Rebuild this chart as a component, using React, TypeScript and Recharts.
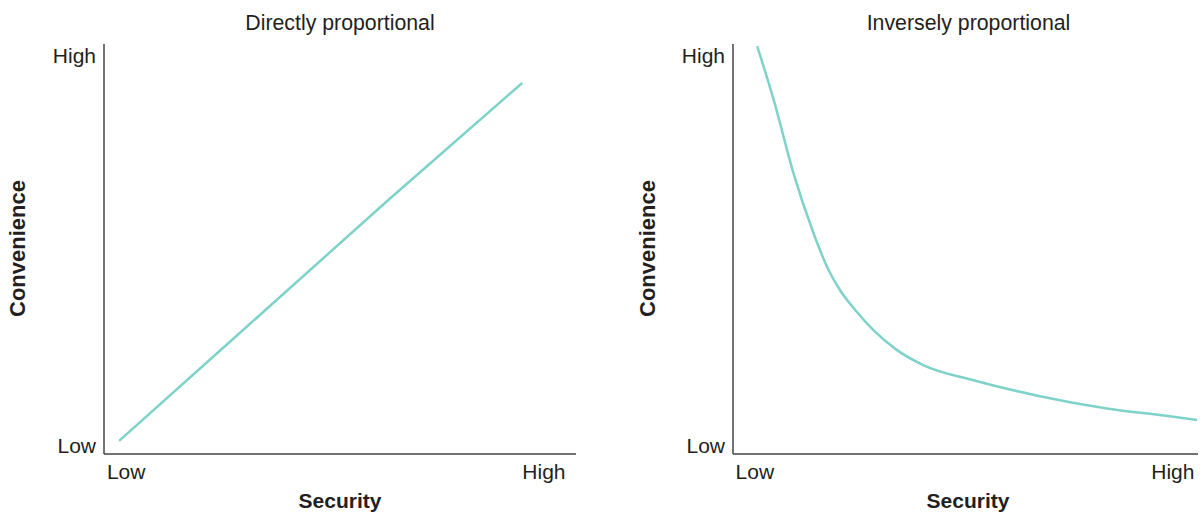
import React from 'react';
import { LineChart, Line, XAxis, YAxis } from 'recharts';

// values, both axes on a 0-100 scale
const directX = [3.2, 30, 60, 88.6];
const directY = [3.2, 30.8, 61.7, 90.5];

const inverseX = [5.2, 8.7, 13.0, 17.3, 20.5, 23.0, 26.6, 30.2, 35.2, 40.9, 51.7, 66.0, 80.4, 94.7, 99.8];
const inverseY = [99.5, 86.6, 68.5, 53.9, 45.0, 40.0, 34.7, 30.2, 25.4, 21.7, 18.0, 14.1, 11.1, 9.1, 8.3];

const yTicks = [2.1, 97.1];
const leftXTicks = [4.7, 93.2];
const rightXTicks = [4.7, 94.6];
const tickNames = ['Low', 'High'];

const titles = ['Directly proportional', 'Inversely proportional'];
const xTitle = 'Security';
const yTitle = 'Convenience';

const directData = directX.map((x, i) => ({ x, y: directY[i] }));
const inverseData = inverseX.map((x, i) => ({ x, y: inverseY[i] }));

const FONT = '"Liberation Sans", Arial, Helvetica, sans-serif';
const TEXT = '#231f20';
const AXIS = '#444';
const TEAL = '#7fd2c9';

const lowHigh = (ticks: number[]) => (v: number) => (v === ticks[0] ? tickNames[0] : tickNames[1]);

function Panel({ data, xTicks, left, width, marginLeft, marginRight, curved }: {
  data: { x: number; y: number }[];
  xTicks: number[];
  left: number;
  width: number;
  marginLeft: number;
  marginRight: number;
  curved: boolean;
}) {
  return (
    <div style={{ position: 'absolute', left, top: 0 }}>
      <LineChart width={width} height={515} data={data} margin={{ top: 44, right: marginRight, left: marginLeft, bottom: 0 }}>
        <XAxis
          type="number"
          dataKey="x"
          domain={[0, 100]}
          ticks={xTicks}
          tickFormatter={lowHigh(xTicks)}
          tickLine={false}
          tickMargin={4.5}
          height={61}
          axisLine={{ stroke: AXIS, strokeWidth: 1.5 }}
          tick={{ fill: TEXT, fontSize: 21, fontFamily: FONT }}
          interval={0}
        />
        <YAxis
          type="number"
          dataKey="y"
          domain={[0, 100]}
          ticks={yTicks}
          tickFormatter={lowHigh(yTicks)}
          tickLine={false}
          width={60}
          axisLine={{ stroke: AXIS, strokeWidth: 1.5 }}
          tick={{ fill: TEXT, fontSize: 21, fontFamily: FONT }}
          interval={0}
        />
        <Line
          type={curved ? 'monotone' : 'linear'}
          dataKey="y"
          stroke={TEAL}
          strokeWidth={2.5}
          dot={false}
          isAnimationActive={false}
        />
      </LineChart>
    </div>
  );
}

export default function App() {
  return (
    <div style={{ position: 'absolute', left: 0, top: 0, width: 1202, height: 515, background: '#fff', fontFamily: FONT }}>
      <Panel data={directData} xTicks={leftXTicks} left={0} width={600} marginLeft={44} marginRight={24} curved={false} />
      <Panel data={inverseData} xTicks={rightXTicks} left={600} width={602} marginLeft={73} marginRight={4} curved={true} />
      <svg width={1202} height={515} style={{ position: 'absolute', left: 0, top: 0, pointerEvents: 'none' }}>
        <g fill={TEXT} fontFamily={FONT}>
          <text x={340} y={29.5} textAnchor="middle" fontSize={21.3}>{titles[0]}</text>
          <text x={968.5} y={29.5} textAnchor="middle" fontSize={21.3}>{titles[1]}</text>
          <text x={340} y={508} textAnchor="middle" fontSize={21} fontWeight="bold">{xTitle}</text>
          <text x={968} y={508} textAnchor="middle" fontSize={21} fontWeight="bold">{xTitle}</text>
          <text x={25} y={248.5} textAnchor="middle" fontSize={22} fontWeight="bold" transform="rotate(-90 25 248.5)">{yTitle}</text>
          <text x={655} y={248.5} textAnchor="middle" fontSize={22} fontWeight="bold" transform="rotate(-90 655 248.5)">{yTitle}</text>
        </g>
      </svg>
    </div>
  );
}
